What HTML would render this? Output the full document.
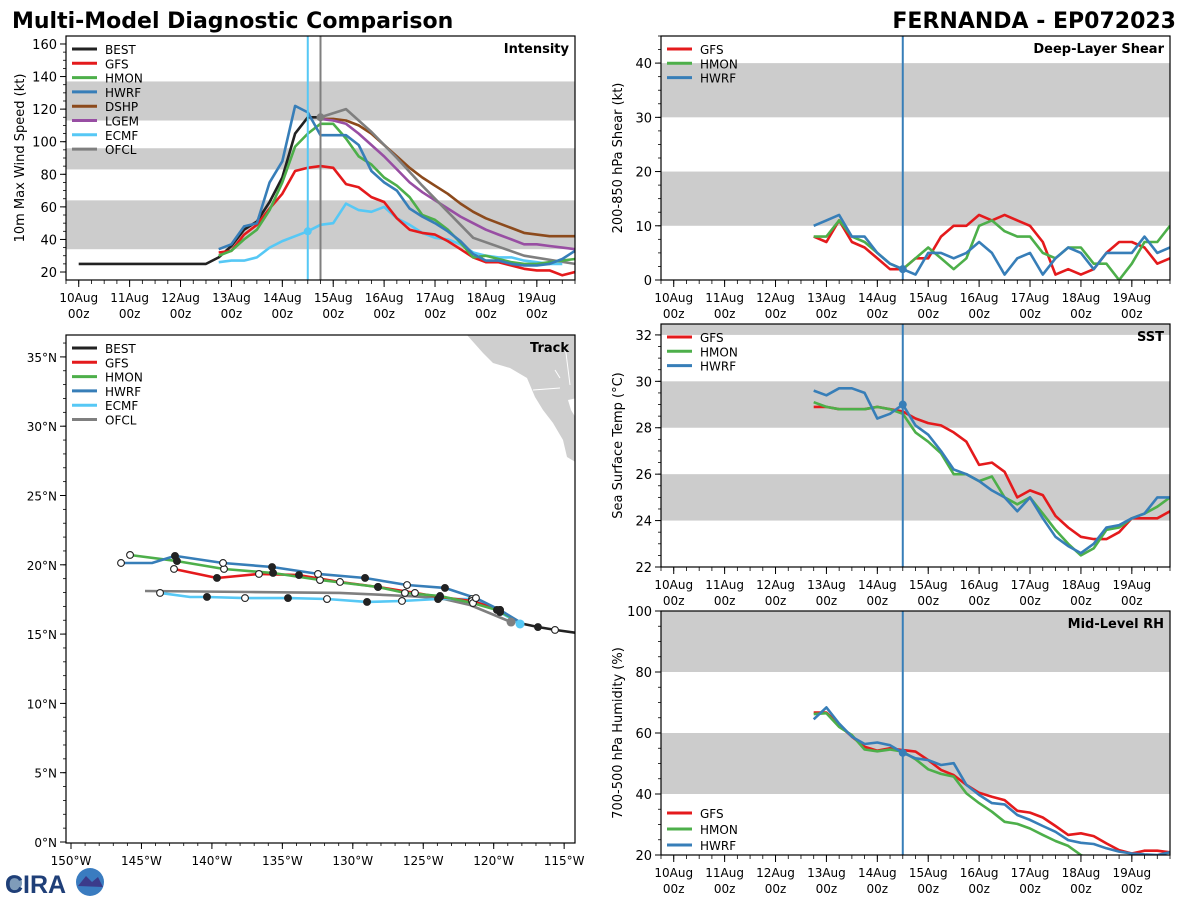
<!DOCTYPE html>
<html><head><meta charset="utf-8"><style>
html,body{margin:0;padding:0;background:#fff}
svg{display:block;font-family:"DejaVu Sans","Liberation Sans",sans-serif}
</style></head><body>
<svg id="chart" xmlns="http://www.w3.org/2000/svg" width="1200" height="900" viewBox="0 0 1200 900">
<text x="12" y="28" font-size="22" font-weight="bold">Multi-Model Diagnostic Comparison</text>
<text x="1176" y="28" font-size="22" font-weight="bold" text-anchor="end">FERNANDA - EP072023</text>
<g>
<circle cx="14" cy="883" r="8" fill="#2a5a8a" opacity="0.6"/>
<text x="5" y="893" font-size="25" font-weight="bold" fill="#1f3f78" font-family="Liberation Sans, sans-serif">CIRA</text>
<circle cx="90" cy="882" r="14" fill="#3a7cc0"/>
<path d="M78,886 L86,876 L92,882 L98,877 L103,887 Z" fill="#3b3b8a"/>
</g>
</svg>
<script>
// ---------- data ----------
const modelStart = 2.75; // days after 10Aug00z
const bestIntensity = [25,25,25,25,25,25,25,25,25,25,25,29,36,46,51,63,78,105,115,115];
const gfsIntensity  = [32,33,43,49,59,68,82,84,85,84,74,72,66,63,53,46,44,43,39,34,29,26,26,24,22,21,21,18,20];
const hmonIntensity = [30,33,40,46,58,75,97,105,111,111,102,91,86,78,73,66,55,52,46,38,29,30,28,26,25,25,26,27,28];
const hwrfIntensity = [34,37,48,50,75,88,122,118,104,104,104,98,82,75,70,59,54,50,45,39,31,27,27,25,24,24,25,28,33];
const dshpIntensity = [114,114,113,110,105,98,91,84,78,73,68,62,57,53,50,47,44,43,42,42,42];
const lgemIntensity = [114,113,111,105,98,91,83,75,69,64,59,54,50,46,43,40,37,37,36,35,34];
const ecmfIntensity = [26,27,27,29,35,39,42,45,49,50,62,58,57,60,53,49,44,41,40,37,32,30,29,29,27,26,25,25];
const ofclTimes     = [4.75,5.25,5.75,6.25,6.75,7.75,8.75,9.75];
const ofclIntensity = [115,120,106,90,73,41,30,25];
const dshpStart = 4.75;

const gfsShear  = [8,7,11,7,6,4,2,2,4,4,8,10,10,12,11,12,11,10,7,1,2,1,2,5,7,7,6,3,4];
const hmonShear = [8,8,11,8,7,5,3,2,4,6,4,2,4,10,11,9,8,8,5,4,6,6,3,3,0,3,7,7,10];
const hwrfShear = [10,11,12,8,8,5,3,2,1,5,5,4,5,7,5,1,4,5,1,4,6,5,2,5,5,5,8,5,6];

const gfsSST  = [28.9,28.9,28.8,28.8,28.8,28.9,28.8,28.7,28.4,28.2,28.1,27.8,27.4,26.4,26.5,26.1,25.0,25.3,25.1,24.2,23.7,23.3,23.2,23.2,23.5,24.1,24.1,24.1,24.4];
const hmonSST = [29.1,28.9,28.8,28.8,28.8,28.9,28.8,28.6,27.8,27.4,26.9,26.0,26.0,25.7,25.9,25.0,24.7,25.0,24.3,23.6,23.0,22.5,22.8,23.6,23.7,24.1,24.3,24.6,25.0];
const hwrfSST = [29.6,29.4,29.7,29.7,29.5,28.4,28.6,29.0,28.1,27.7,27.0,26.2,26.0,25.7,25.3,25.0,24.4,25.0,24.1,23.3,22.9,22.6,23.0,23.7,23.8,24.1,24.3,25.0,25.0];

const gfsRH  = [66.7,66.7,62.6,58.8,55.5,54.2,55,54.4,53.9,51.1,47.9,46.2,43,40.4,39.1,38,34.5,33.9,32.3,29.5,26.6,27.1,26.2,23.8,21.6,20.5,21.4,21.4,20.9];
const hmonRH = [66.2,66.5,62,59.3,54.6,54,54.6,53.9,51.4,48.1,46.6,45.7,40.2,37,34.2,30.9,30.2,28.7,26.6,24.6,23,20,18];
const hwrfRH = [64.5,68.4,63.1,58.8,56.4,56.9,56,53.5,51.7,51.1,49.5,50.1,43,39.7,37,36.6,33.1,31.5,29.5,27.6,24.9,24,23.6,22.2,21.1,20.5,20.2,20,20.9];

// tracks: [lon, lat, marker]  f=filled, o=open, n=none
const bestTrack = [[-118.2,15.8,'n'],[-116.86,15.51,'f'],[-115.65,15.3,'o'],[-114.1,15.08,'n']];
const gfsTrack  = [[-118.49,16.02,'n'],[-119.55,16.74,'f'],[-121.54,17.39,'o'],[-123.81,17.68,'f'],[-125.59,17.97,'o'],[-128.21,18.40,'f'],[-130.91,18.76,'o'],[-133.82,19.26,'f'],[-136.66,19.34,'o'],[-139.64,19.05,'f'],[-142.69,19.70,'o']];
const hmonTrack = [[-118.56,16.09,'n'],[-119.77,16.74,'f'],[-121.47,17.24,'o'],[-123.81,17.75,'f'],[-126.30,17.97,'o'],[-128.21,18.40,'f'],[-132.33,18.90,'o'],[-135.66,19.41,'f'],[-139.14,19.70,'o'],[-142.48,20.27,'f'],[-145.81,20.71,'o']];
const hwrfTrack = [[-118.28,15.95,'n'],[-119.55,16.74,'f'],[-121.26,17.60,'o'],[-123.46,18.33,'f'],[-126.15,18.54,'o'],[-129.13,19.05,'f'],[-132.47,19.34,'o'],[-135.73,19.84,'f'],[-139.21,20.13,'o'],[-142.62,20.64,'f'],[-144.25,20.13,'n'],[-146.45,20.13,'o']];
const ecmfTrack = [[-118.13,15.73,'n'],[-119.55,16.59,'f'],[-121.54,17.53,'o'],[-123.95,17.53,'f'],[-126.51,17.39,'o'],[-128.99,17.32,'f'],[-131.83,17.53,'o'],[-134.60,17.60,'f'],[-137.65,17.60,'o'],[-140.35,17.68,'f'],[-141.55,17.68,'n'],[-143.68,17.97,'o']];
const ofclTrack = [[-118.77,15.87,'n'],[-121.68,17.10,'n'],[-123.81,17.60,'n'],[-126.15,17.75,'n'],[-130.91,17.97,'n'],[-137.30,18.04,'n'],[-144.75,18.11,'n']];

const dayLabels = ['10Aug','11Aug','12Aug','13Aug','14Aug','15Aug','16Aug','17Aug','18Aug','19Aug'];
const lonTicks = [-150,-145,-140,-135,-130,-125,-120,-115];
const latTicks = [0,5,10,15,20,25,30,35];

const C = {BEST:'#222222',GFS:'#e41a1c',HMON:'#4daf4a',HWRF:'#377eb8',DSHP:'#8c4a1c',LGEM:'#984ea3',ECMF:'#56c8f5',OFCL:'#7f7f7f'};

// ---------- drawing ----------
const svg = document.getElementById('chart');
const NS = 'http://www.w3.org/2000/svg';
function mk(tag, attrs, parent, txt){
  const e = document.createElementNS(NS, tag);
  for (const k in attrs) e.setAttribute(k, attrs[k]);
  if (txt !== undefined) e.textContent = txt;
  (parent || svg).appendChild(e);
  return e;
}
let clipId = 0;

function timePanel(p){
  const g = mk('g', {});
  
  
  const xs = t => p.x0 + (t + 0.25) / 10 * (p.x1 - p.x0);
  const ys = v => p.y1 - (v - p.ymin) / (p.ymax - p.ymin) * (p.y1 - p.y0);
  p.xs = xs; p.ys = ys;
  const cid = 'clip' + (clipId++);
  const cp = mk('clipPath', {id: cid}, g);
  mk('rect', {x: p.x0, y: p.y0, width: p.x1 - p.x0, height: p.y1 - p.y0}, cp);
  for (const b of p.bands){
    const r = mk('rect', {x: p.x0, y: ys(Math.min(b[1], p.ymax)), width: p.x1 - p.x0, height: ys(b[0]) - ys(Math.min(b[1], p.ymax)), fill: '#cccccc'}, g);
    
    
  }
  for (const v of p.yticks){
    mk('line', {x1: p.x0 - 6, x2: p.x0, y1: ys(v), y2: ys(v), stroke: '#000', 'stroke-width': 1}, g);
    const t = mk('text', {x: p.x0 - 9, y: ys(v) + 5, 'font-size': 13, 'text-anchor': 'end'}, g, String(v));
    
    
  }
  for (let v = p.yticks[0]; v <= p.ymax + 1e-9; v += p.yminor){
    if (v < p.ymin) continue;
    mk('line', {x1: p.x0 - 3, x2: p.x0, y1: ys(v), y2: ys(v), stroke: '#000', 'stroke-width': 0.8}, g);
  }
  for (let i = 0; i < dayLabels.length; i++){
    const x = xs(i);
    mk('line', {x1: x, x2: x, y1: p.y1, y2: p.y1 + 7, stroke: '#000', 'stroke-width': 1}, g);
    const t1 = mk('text', {x: x, y: p.y1 + 22, 'font-size': 12, 'text-anchor': 'middle'}, g, dayLabels[i]);
    
    
    const t2 = mk('text', {x: x, y: p.y1 + 38, 'font-size': 12, 'text-anchor': 'middle'}, g, '00z');
    
    
  }
  for (let t = -0.25; t <= 9.76; t += 0.25){
    mk('line', {x1: xs(t), x2: xs(t), y1: p.y1, y2: p.y1 + 4, stroke: '#000', 'stroke-width': 0.8}, g);
  }
  const yl = mk('text', {x: 0, y: 0, 'font-size': 13, 'text-anchor': 'middle', transform: `translate(${p.ylx},${(p.y0 + p.y1) / 2}) rotate(-90)`}, g, p.ylabel);
  
  
  const plot = mk('g', {'clip-path': `url(#${cid})`}, g);
  p.plot = plot; p.g = g;
  return p;
}
function series(p, vals, t0, step, color, name){
  const pts = vals.map((v, i) => p.xs(t0 + i * step).toFixed(1) + ',' + p.ys(v).toFixed(1)).join(' ');
  const l = mk('polyline', {points: pts, fill: 'none', stroke: color, 'stroke-width': 2.6, 'stroke-linejoin': 'round'}, p.plot);
  
  
}
function seriesXY(p, ts, vals, color, name){
  const pts = vals.map((v, i) => p.xs(ts[i]).toFixed(1) + ',' + p.ys(v).toFixed(1)).join(' ');
  const l = mk('polyline', {points: pts, fill: 'none', stroke: color, 'stroke-width': 2.6, 'stroke-linejoin': 'round'}, p.plot);
  
  
}
function vline(p, t, color, name){
  const l = mk('line', {x1: p.xs(t), x2: p.xs(t), y1: p.y0, y2: p.y1, stroke: color, 'stroke-width': 2}, p.plot);
  
  
}
function dot(p, t, v, color, name){
  const c = mk('circle', {cx: p.xs(t), cy: p.ys(v), r: 4, fill: color}, p.plot);
  
  
}
function frame(p){
  const r = mk('rect', {x: p.x0, y: p.y0, width: p.x1 - p.x0, height: p.y1 - p.y0, fill: 'none', stroke: '#000', 'stroke-width': 1.2}, p.g);
  
  
  const t = mk('text', {x: p.x1 - 6, y: p.y0 + 17, 'font-size': 13, 'font-weight': 'bold', 'text-anchor': 'end'}, p.g, p.title);
  
  
}
function legend(g, x, y, names, dy){
  names.forEach((n, i) => {
    const e = mk('g', {}, g);
    
    
    mk('line', {x1: x, x2: x + 25, y1: y + i * dy, y2: y + i * dy, stroke: C[n], 'stroke-width': 3}, e);
    mk('text', {x: x + 33, y: y + i * dy + 5, 'font-size': 12}, e, n);
  });
}

// Intensity
const pI = timePanel({name: 'intensity-panel', x0: 66, x1: 575, y0: 36, y1: 280, ymin: 15.1, ymax: 164.9,
  bands: [[34,64],[83,96],[113,137]], yticks: [20,40,60,80,100,120,140,160], yminor: 5, ylx: 24,
  ylabel: '10m Max Wind Speed (kt)', title: 'Intensity'});
series(pI, bestIntensity, 0, 0.25, C.BEST, 'best-intensity-line');
series(pI, dshpIntensity, dshpStart, 0.25, C.DSHP, 'dshp-intensity-line');
series(pI, lgemIntensity, dshpStart, 0.25, C.LGEM, 'lgem-intensity-line');
seriesXY(pI, ofclTimes, ofclIntensity, C.OFCL, 'ofcl-intensity-line');
series(pI, ecmfIntensity, modelStart, 0.25, C.ECMF, 'ecmf-intensity-line');
series(pI, gfsIntensity, modelStart, 0.25, C.GFS, 'gfs-intensity-line');
series(pI, hmonIntensity, modelStart, 0.25, C.HMON, 'hmon-intensity-line');
series(pI, hwrfIntensity, modelStart, 0.25, C.HWRF, 'hwrf-intensity-line');
vline(pI, 4.5, C.ECMF, 'ecmf-init-line');
vline(pI, 4.75, C.OFCL, 'ofcl-init-line');
dot(pI, 4.5, ecmfIntensity[7], C.ECMF, 'ecmf-init-dot');
dot(pI, 4.75, ofclIntensity[0], C.OFCL, 'ofcl-init-dot');
frame(pI);
legend(pI.g, 72, 49, ['BEST','GFS','HMON','HWRF','DSHP','LGEM','ECMF','OFCL'], 14.3);

function rightPanel(cfg, gv, hv, wv, legY, legDy){
  const p = timePanel(cfg);
  series(p, gv, modelStart, 0.25, C.GFS, 'gfs-line');
  series(p, hv, modelStart, 0.25, C.HMON, 'hmon-line');
  series(p, wv, modelStart, 0.25, C.HWRF, 'hwrf-line');
  vline(p, 4.5, C.HWRF, 'init-time-line');
  dot(p, 4.5, wv[7], C.HWRF, 'init-dot');
  frame(p);
  legend(p.g, 667, legY, ['GFS','HMON','HWRF'], legDy);
}
rightPanel({name: 'shear-panel', x0: 661, x1: 1170, y0: 36, y1: 280, ymin: 0, ymax: 45,
  bands: [[10,20],[30,40]], yticks: [0,10,20,30,40], yminor: 2.5, ylx: 622,
  ylabel: '200-850 hPa Shear (kt)', title: 'Deep-Layer Shear'}, gfsShear, hmonShear, hwrfShear, 49, 14.3);
rightPanel({name: 'sst-panel', x0: 661, x1: 1170, y0: 324, y1: 567, ymin: 22, ymax: 32.47,
  bands: [[24,26],[28,30],[32,33]], yticks: [22,24,26,28,30,32], yminor: 0.5, ylx: 622,
  ylabel: 'Sea Surface Temp (°C)', title: 'SST'}, gfsSST, hmonSST, hwrfSST, 337, 14.3);
rightPanel({name: 'rh-panel', x0: 661, x1: 1170, y0: 611, y1: 855, ymin: 20, ymax: 100,
  bands: [[40,60],[80,100]], yticks: [20,40,60,80,100], yminor: 5, ylx: 622,
  ylabel: '700-500 hPa Humidity (%)', title: 'Mid-Level RH'}, gfsRH, hmonRH, hwrfRH, 813, 16);

// Track panel
(function(){
  const x0 = 66, x1 = 575, y0 = 335, y1 = 843;
  const g = mk('g', {});
  
  
  const xs = lon => 71 + (lon + 150) * 14.09;
  const ys = lat => 842 - lat * 13.86;
  const cp = mk('clipPath', {id: 'trackclip'}, g);
  mk('rect', {x: x0, y: y0, width: x1 - x0, height: y1 - y0}, cp);
  const plot = mk('g', {'clip-path': 'url(#trackclip)'}, g);
  const land = mk('path', {d: 'M467,335 L483,353 L493,363 L510,368 L527,378 L535,397 L543,410 L553,423 L563,440 L567,457 L577,463 L577,335 Z', fill: '#cfcfcf'}, plot);
  
  
  mk('path', {d: 'M568,400 L571,410 L577,420 L577,398 Z', fill: '#fff'}, plot);
  mk('path', {d: 'M533,390 L560,388 M555,370 L560,378 M565,345 L570,385', fill: 'none', stroke: '#fff', 'stroke-width': 1}, plot);
  const tracks = [['ofcl', ofclTrack, C.OFCL], ['ecmf', ecmfTrack, C.ECMF], ['gfs', gfsTrack, C.GFS], ['hmon', hmonTrack, C.HMON], ['hwrf', hwrfTrack, C.HWRF], ['best', bestTrack, C.BEST]];
  for (const [n, tr, col] of tracks){
    const pts = tr.map(q => xs(q[0]).toFixed(1) + ',' + ys(q[1]).toFixed(1)).join(' ');
    const l = mk('polyline', {points: pts, fill: 'none', stroke: col, 'stroke-width': 2.6, 'stroke-linejoin': 'round'}, plot);
    
    
  }
  for (const [n, tr, col] of tracks){
    for (const q of tr){
      if (q[2] === 'n') continue;
      const c = mk('circle', {cx: xs(q[0]), cy: ys(q[1]), r: 3.4, fill: q[2] === 'f' ? '#222' : '#fff', stroke: '#222', 'stroke-width': 1.1}, plot);
      
      
    }
  }
  const s1 = mk('circle', {cx: xs(ecmfTrack[0][0]), cy: ys(ecmfTrack[0][1]), r: 4.5, fill: C.ECMF}, plot);
  
  
  const s2 = mk('circle', {cx: xs(ofclTrack[0][0]), cy: ys(ofclTrack[0][1]), r: 4.5, fill: C.OFCL}, plot);
  
  
  for (const lon of lonTicks){
    mk('line', {x1: xs(lon), x2: xs(lon), y1: y1, y2: y1 + 6, stroke: '#000'}, g);
    const t = mk('text', {x: xs(lon), y: y1 + 22, 'font-size': 12, 'text-anchor': 'middle'}, g, (-lon) + '°W');
    
    
  }
  for (let lon = -150; lon <= -114.5; lon += 1){
    mk('line', {x1: xs(lon), x2: xs(lon), y1: y1, y2: y1 + 3, stroke: '#000', 'stroke-width': 0.8}, g);
  }
  for (const lat of latTicks){
    mk('line', {x1: x0 - 6, x2: x0, y1: ys(lat), y2: ys(lat), stroke: '#000'}, g);
    const t = mk('text', {x: x0 - 9, y: ys(lat) + 5, 'font-size': 12, 'text-anchor': 'end'}, g, lat + '°N');
    
    
  }
  for (let lat = 0; lat <= 36; lat += 1){
    mk('line', {x1: x0 - 3, x2: x0, y1: ys(lat), y2: ys(lat), stroke: '#000', 'stroke-width': 0.8}, g);
  }
  const r = mk('rect', {x: x0, y: y0, width: x1 - x0, height: y1 - y0, fill: 'none', stroke: '#000', 'stroke-width': 1.2}, g);
  
  
  const tt = mk('text', {x: x1 - 6, y: y0 + 17, 'font-size': 13, 'font-weight': 'bold', 'text-anchor': 'end'}, g, 'Track');
  
  
  legend(g, 72, 348, ['BEST','GFS','HMON','HWRF','ECMF','OFCL'], 14.3);
})();
</script>
</body></html>
